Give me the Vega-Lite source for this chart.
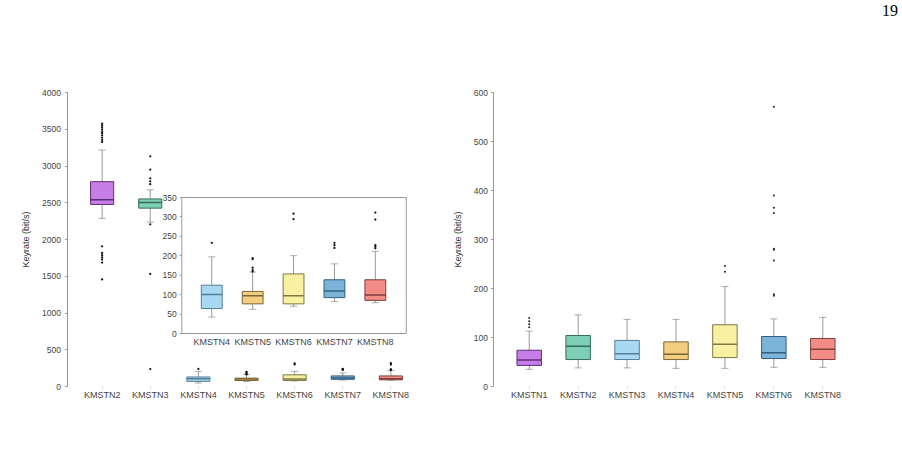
{
  "$schema": "https://vega.github.io/schema/vega-lite/v6.json",
  "padding": {"left": 21, "top": 3, "right": 0, "bottom": 0},
  "background": "white",
  "title": {"text": "19", "anchor": "end", "font": "Liberation Serif", "fontSize": 16, "fontWeight": "normal", "color": "#000", "offset": 69, "dx": 39},
  "config": {
    "view": {"stroke": null},
    "font": "Liberation Sans",
    "axis": {"labelFont": "Liberation Sans", "labelFontSize": 8.5, "labelColor": "#444", "titleFont": "Liberation Sans", "titleFontSize": 9, "titleFontWeight": "normal", "titleColor": "#333", "domainColor": "#999", "tickColor": "#999", "grid": false}
  },
  "datasets": {
    "leftStats": [
      {"cat": "KMSTN2", "lower": 2280, "q1": 2470, "median": 2535, "q3": 2780, "upper": 3210},
      {"cat": "KMSTN3", "lower": 2230, "q1": 2420, "median": 2495, "q3": 2545, "upper": 2670},
      {"cat": "KMSTN4", "lower": 41, "q1": 63, "median": 99, "q3": 123, "upper": 196},
      {"cat": "KMSTN5", "lower": 61, "q1": 75, "median": 96, "q3": 107, "upper": 157},
      {"cat": "KMSTN6", "lower": 69, "q1": 75, "median": 96, "q3": 152, "upper": 199},
      {"cat": "KMSTN7", "lower": 81, "q1": 91, "median": 108, "q3": 137, "upper": 178},
      {"cat": "KMSTN8", "lower": 78, "q1": 84, "median": 98, "q3": 137, "upper": 210}
    ],
    "leftOut": [
      {"cat": "KMSTN2", "v": 3570}, {"cat": "KMSTN2", "v": 3545}, {"cat": "KMSTN2", "v": 3520}, {"cat": "KMSTN2", "v": 3490},
      {"cat": "KMSTN2", "v": 3460}, {"cat": "KMSTN2", "v": 3440}, {"cat": "KMSTN2", "v": 3410}, {"cat": "KMSTN2", "v": 3380},
      {"cat": "KMSTN2", "v": 3350}, {"cat": "KMSTN2", "v": 3320}, {"cat": "KMSTN2", "v": 1900}, {"cat": "KMSTN2", "v": 1810},
      {"cat": "KMSTN2", "v": 1780}, {"cat": "KMSTN2", "v": 1750}, {"cat": "KMSTN2", "v": 1720}, {"cat": "KMSTN2", "v": 1680},
      {"cat": "KMSTN2", "v": 1450},
      {"cat": "KMSTN3", "v": 3125}, {"cat": "KMSTN3", "v": 2945}, {"cat": "KMSTN3", "v": 2825}, {"cat": "KMSTN3", "v": 2785},
      {"cat": "KMSTN3", "v": 2745}, {"cat": "KMSTN3", "v": 2200}, {"cat": "KMSTN3", "v": 1525}, {"cat": "KMSTN3", "v": 230},
      {"cat": "KMSTN4", "v": 232},
      {"cat": "KMSTN5", "v": 193}, {"cat": "KMSTN5", "v": 190}, {"cat": "KMSTN5", "v": 168}, {"cat": "KMSTN5", "v": 162}, {"cat": "KMSTN5", "v": 158},
      {"cat": "KMSTN6", "v": 307}, {"cat": "KMSTN6", "v": 293},
      {"cat": "KMSTN7", "v": 232}, {"cat": "KMSTN7", "v": 226}, {"cat": "KMSTN7", "v": 219},
      {"cat": "KMSTN8", "v": 310}, {"cat": "KMSTN8", "v": 292}, {"cat": "KMSTN8", "v": 226}, {"cat": "KMSTN8", "v": 222}, {"cat": "KMSTN8", "v": 218}
    ],
    "rightStats": [
      {"cat": "KMSTN1", "lower": 34, "q1": 42, "median": 53, "q3": 73, "upper": 112},
      {"cat": "KMSTN2", "lower": 37, "q1": 54, "median": 81, "q3": 103, "upper": 145},
      {"cat": "KMSTN3", "lower": 37, "q1": 54, "median": 66, "q3": 93, "upper": 136},
      {"cat": "KMSTN4", "lower": 36, "q1": 54, "median": 65, "q3": 90, "upper": 136},
      {"cat": "KMSTN5", "lower": 36, "q1": 58, "median": 85, "q3": 125, "upper": 203},
      {"cat": "KMSTN6", "lower": 38, "q1": 56, "median": 68, "q3": 101, "upper": 137},
      {"cat": "KMSTN8", "lower": 38, "q1": 54, "median": 75, "q3": 97, "upper": 140}
    ],
    "rightOut": [
      {"cat": "KMSTN1", "v": 120}, {"cat": "KMSTN1", "v": 126}, {"cat": "KMSTN1", "v": 132}, {"cat": "KMSTN1", "v": 139},
      {"cat": "KMSTN5", "v": 233}, {"cat": "KMSTN5", "v": 245},
      {"cat": "KMSTN6", "v": 570}, {"cat": "KMSTN6", "v": 389}, {"cat": "KMSTN6", "v": 364}, {"cat": "KMSTN6", "v": 353},
      {"cat": "KMSTN6", "v": 280}, {"cat": "KMSTN6", "v": 278}, {"cat": "KMSTN6", "v": 256}, {"cat": "KMSTN6", "v": 187}, {"cat": "KMSTN6", "v": 184}
    ]
  },
  "spacing": 27,
  "resolve": {"scale": {"fill": "independent", "stroke": "independent", "x": "independent", "y": "independent"}},
  "hconcat": [
    {
      "width": 359,
      "height": 294,
      "resolve": {"scale": {"x": "independent", "y": "independent"}},
      "layer": [
        {
          "encoding": {
            "x": {"field": "cat", "type": "nominal", "sort": null,
              "scale": {"domain": ["KMSTN2", "KMSTN3", "KMSTN4", "KMSTN5", "KMSTN6", "KMSTN7", "KMSTN8"], "paddingInner": 0.52, "paddingOuter": 0.49},
              "axis": {"title": null, "orient": "bottom", "domain": false, "ticks": true, "tickSize": 2, "tickColor": "#ccc", "labelPadding": 2, "labelAngle": 0, "labelFontSize": 9}}
          },
          "layer": [
            {"data": {"name": "leftStats"}, "mark": {"type": "rule", "color": "#999"},
             "encoding": {"y": {"field": "lower", "type": "quantitative", "scale": {"domain": [0, 4000], "nice": false},
               "axis": {"orient": "left", "title": "Keyrate (bit/s)", "format": "d", "values": [0, 500, 1000, 1500, 2000, 2500, 3000, 3500, 4000], "tickSize": 2.5, "labelPadding": 4, "titlePadding": 11}},
               "y2": {"field": "upper"}}},
            {"data": {"name": "leftStats"}, "mark": {"type": "tick", "color": "#888", "size": 7, "thickness": 1},
             "encoding": {"y": {"field": "upper", "type": "quantitative",
               "axis": {"orient": "left", "title": "Keyrate (bit/s)", "format": "d", "values": [0, 500, 1000, 1500, 2000, 2500, 3000, 3500, 4000], "tickSize": 2.5, "labelPadding": 4, "titlePadding": 11}}}},
            {"data": {"name": "leftStats"}, "mark": {"type": "tick", "color": "#888", "size": 7, "thickness": 1},
             "encoding": {"y": {"field": "lower", "type": "quantitative",
               "axis": {"orient": "left", "title": "Keyrate (bit/s)", "format": "d", "values": [0, 500, 1000, 1500, 2000, 2500, 3000, 3500, 4000], "tickSize": 2.5, "labelPadding": 4, "titlePadding": 11}}}},
            {"data": {"name": "leftStats"}, "mark": {"type": "bar", "strokeWidth": 1},
             "encoding": {"y": {"field": "q1", "type": "quantitative",
               "axis": {"orient": "left", "title": "Keyrate (bit/s)", "format": "d", "values": [0, 500, 1000, 1500, 2000, 2500, 3000, 3500, 4000], "tickSize": 2.5, "labelPadding": 4, "titlePadding": 11}}, "y2": {"field": "q3"},
               "fill": {"field": "cat", "type": "nominal", "legend": null, "scale": {"domain": ["KMSTN2", "KMSTN3", "KMSTN4", "KMSTN5", "KMSTN6", "KMSTN7", "KMSTN8"], "range": ["#c77de8", "#7fcfb6", "#a9d9f2", "#f1ce80", "#f8f1a1", "#7cb4d9", "#f38b86"]}},
               "stroke": {"field": "cat", "type": "nominal", "legend": null, "scale": {"domain": ["KMSTN2", "KMSTN3", "KMSTN4", "KMSTN5", "KMSTN6", "KMSTN7", "KMSTN8"], "range": ["#5e2f72", "#356b5a", "#557f96", "#7d6535", "#7d7845", "#335f7e", "#7e3f3c"]}}}},
            {"data": {"name": "leftStats"}, "mark": {"type": "bar", "strokeWidth": 1.5, "fill": "transparent"},
             "encoding": {"y": {"field": "median", "type": "quantitative",
               "axis": {"orient": "left", "title": "Keyrate (bit/s)", "format": "d", "values": [0, 500, 1000, 1500, 2000, 2500, 3000, 3500, 4000], "tickSize": 2.5, "labelPadding": 4, "titlePadding": 11}}, "y2": {"field": "median"},
               "stroke": {"field": "cat", "type": "nominal", "legend": null}}},
            {"data": {"name": "leftOut"}, "mark": {"type": "point", "filled": true, "size": 5, "color": "#111", "opacity": 1},
             "encoding": {"y": {"field": "v", "type": "quantitative",
               "axis": {"orient": "left", "title": "Keyrate (bit/s)", "format": "d", "values": [0, 500, 1000, 1500, 2000, 2500, 3000, 3500, 4000], "tickSize": 2.5, "labelPadding": 4, "titlePadding": 11}}}}
          ]
        },
        {
          "resolve": {"axis": {"x": "independent", "y": "independent"}},
          "layer": [
            {"data": {"name": "leftStats"}, "transform": [{"filter": {"field": "cat", "oneOf": ["KMSTN4", "KMSTN5", "KMSTN6", "KMSTN7", "KMSTN8"]}}],
             "mark": {"type": "rule", "color": "#999"},
             "encoding": {
               "x": {"field": "cat", "type": "nominal", "sort": null,
                 "scale": {"domain": ["KMSTN4", "KMSTN5", "KMSTN6", "KMSTN7", "KMSTN8"], "range": [114.3, 338.8], "paddingInner": 0.49, "paddingOuter": 0.49},
                 "axis": {"title": null, "orient": "bottom", "offset": -53, "domain": true, "ticks": false, "labelPadding": 4, "labelAngle": 0, "labelFontSize": 9}},
               "y": {"field": "lower", "type": "quantitative", "scale": {"domain": [0, 350], "range": [241, 105], "nice": false},
                 "axis": {"orient": "left", "offset": -114.3, "title": null, "values": [0, 50, 100, 150, 200, 250, 300, 350], "tickSize": 2, "labelPadding": 3}},
               "y2": {"field": "upper"}}},
            {"data": {"name": "leftStats"}, "transform": [{"filter": {"field": "cat", "oneOf": ["KMSTN4", "KMSTN5", "KMSTN6", "KMSTN7", "KMSTN8"]}}],
             "mark": {"type": "tick", "color": "#888", "size": 7, "thickness": 1},
             "encoding": {
               "x": {"field": "cat", "type": "nominal", "sort": null,
                 "scale": {"domain": ["KMSTN4", "KMSTN5", "KMSTN6", "KMSTN7", "KMSTN8"], "range": [114.3, 338.8], "paddingInner": 0.49, "paddingOuter": 0.49},
                 "axis": {"title": null, "orient": "top", "offset": -105, "domain": true, "ticks": false, "labels": false}},
               "y": {"field": "upper", "type": "quantitative", "scale": {"domain": [0, 350], "range": [241, 105], "nice": false},
                 "axis": {"orient": "right", "offset": -20.2, "title": null, "ticks": false, "labels": false, "domain": true}}}},
            {"data": {"name": "leftStats"}, "transform": [{"filter": {"field": "cat", "oneOf": ["KMSTN4", "KMSTN5", "KMSTN6", "KMSTN7", "KMSTN8"]}}],
             "mark": {"type": "tick", "color": "#888", "size": 7, "thickness": 1},
             "encoding": {
               "x": {"field": "cat", "type": "nominal", "sort": null, "axis": null},
               "y": {"field": "lower", "type": "quantitative", "axis": null}}},
            {"data": {"name": "leftStats"}, "transform": [{"filter": {"field": "cat", "oneOf": ["KMSTN4", "KMSTN5", "KMSTN6", "KMSTN7", "KMSTN8"]}}],
             "mark": {"type": "bar", "strokeWidth": 1},
             "encoding": {
               "x": {"field": "cat", "type": "nominal", "sort": null, "axis": null},
               "y": {"field": "q1", "type": "quantitative", "axis": null}, "y2": {"field": "q3"},
               "fill": {"field": "cat", "type": "nominal", "legend": null},
               "stroke": {"field": "cat", "type": "nominal", "legend": null}}},
            {"data": {"name": "leftStats"}, "transform": [{"filter": {"field": "cat", "oneOf": ["KMSTN4", "KMSTN5", "KMSTN6", "KMSTN7", "KMSTN8"]}}],
             "mark": {"type": "bar", "strokeWidth": 1.5, "fill": "transparent"},
             "encoding": {
               "x": {"field": "cat", "type": "nominal", "sort": null, "axis": null},
               "y": {"field": "median", "type": "quantitative", "axis": null}, "y2": {"field": "median"},
               "stroke": {"field": "cat", "type": "nominal", "legend": null}}},
            {"data": {"name": "leftOut"}, "transform": [{"filter": {"field": "cat", "oneOf": ["KMSTN4", "KMSTN5", "KMSTN6", "KMSTN7", "KMSTN8"]}}],
             "mark": {"type": "point", "filled": true, "size": 5, "color": "#111", "opacity": 1},
             "encoding": {
               "x": {"field": "cat", "type": "nominal", "sort": null, "axis": null},
               "y": {"field": "v", "type": "quantitative", "axis": null}}}
          ]
        }
      ]
    },
    {
      "width": 366,
      "height": 294,
      "encoding": {
        "x": {"field": "cat", "type": "nominal", "sort": null,
          "scale": {"domain": ["KMSTN1", "KMSTN2", "KMSTN3", "KMSTN4", "KMSTN5", "KMSTN6", "KMSTN8"], "paddingInner": 0.5, "paddingOuter": 0.49},
          "axis": {"title": null, "orient": "bottom", "domain": false, "ticks": true, "tickSize": 2, "tickColor": "#ccc", "labelPadding": 2, "labelAngle": 0, "labelFontSize": 9}}
      },
      "layer": [
        {"data": {"name": "rightStats"}, "mark": {"type": "rule", "color": "#999"},
         "encoding": {"y": {"field": "lower", "type": "quantitative", "scale": {"domain": [0, 600], "nice": false},
           "axis": {"orient": "left", "title": "Keyrate (bit/s)", "values": [0, 100, 200, 300, 400, 500, 600], "tickSize": 2.5, "labelPadding": 3, "titlePadding": 11}},
           "y2": {"field": "upper"}}},
        {"data": {"name": "rightStats"}, "mark": {"type": "tick", "color": "#888", "size": 7, "thickness": 1},
         "encoding": {"y": {"field": "upper", "type": "quantitative",
           "axis": {"orient": "left", "title": "Keyrate (bit/s)", "values": [0, 100, 200, 300, 400, 500, 600], "tickSize": 2.5, "labelPadding": 3, "titlePadding": 11}}}},
        {"data": {"name": "rightStats"}, "mark": {"type": "tick", "color": "#888", "size": 7, "thickness": 1},
         "encoding": {"y": {"field": "lower", "type": "quantitative",
           "axis": {"orient": "left", "title": "Keyrate (bit/s)", "values": [0, 100, 200, 300, 400, 500, 600], "tickSize": 2.5, "labelPadding": 3, "titlePadding": 11}}}},
        {"data": {"name": "rightStats"}, "mark": {"type": "bar", "strokeWidth": 1},
         "encoding": {"y": {"field": "q1", "type": "quantitative",
           "axis": {"orient": "left", "title": "Keyrate (bit/s)", "values": [0, 100, 200, 300, 400, 500, 600], "tickSize": 2.5, "labelPadding": 3, "titlePadding": 11}}, "y2": {"field": "q3"},
           "fill": {"field": "cat", "type": "nominal", "legend": null, "scale": {"domain": ["KMSTN1", "KMSTN2", "KMSTN3", "KMSTN4", "KMSTN5", "KMSTN6", "KMSTN8"], "range": ["#c77de8", "#7fcfb6", "#a9d9f2", "#f1ce80", "#f8f1a1", "#7cb4d9", "#f38b86"]}},
           "stroke": {"field": "cat", "type": "nominal", "legend": null, "scale": {"domain": ["KMSTN1", "KMSTN2", "KMSTN3", "KMSTN4", "KMSTN5", "KMSTN6", "KMSTN8"], "range": ["#5e2f72", "#356b5a", "#557f96", "#7d6535", "#7d7845", "#335f7e", "#7e3f3c"]}}}},
        {"data": {"name": "rightStats"}, "mark": {"type": "bar", "strokeWidth": 1.5, "fill": "transparent"},
         "encoding": {"y": {"field": "median", "type": "quantitative",
           "axis": {"orient": "left", "title": "Keyrate (bit/s)", "values": [0, 100, 200, 300, 400, 500, 600], "tickSize": 2.5, "labelPadding": 3, "titlePadding": 11}}, "y2": {"field": "median"},
           "stroke": {"field": "cat", "type": "nominal", "legend": null}}},
        {"data": {"name": "rightOut"}, "mark": {"type": "point", "filled": true, "size": 4, "color": "#222", "opacity": 1},
         "encoding": {"y": {"field": "v", "type": "quantitative",
           "axis": {"orient": "left", "title": "Keyrate (bit/s)", "values": [0, 100, 200, 300, 400, 500, 600], "tickSize": 2.5, "labelPadding": 3, "titlePadding": 11}}}}
      ]
    }
  ]
}
